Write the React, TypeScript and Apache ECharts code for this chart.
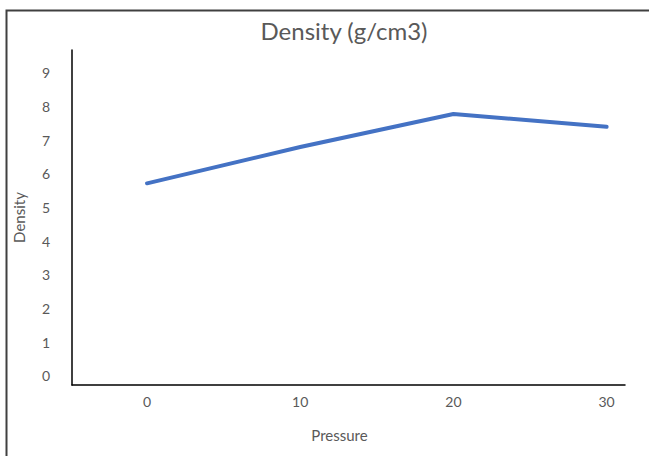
import React, { useEffect, useRef } from "react";
import * as echarts from "echarts";

const pressure = [0, 10, 20, 30];
const density = [5.72, 6.8, 7.78, 7.4];
const yTicks = [0, 1, 2, 3, 4, 5, 6, 7, 8, 9];
const xTicks = [0, 10, 20, 30];
const titleText = "Density (g/cm3)";
const xName = "Pressure";
const yName = "Density";

export default function App() {
  const ref = useRef<HTMLDivElement>(null);
  useEffect(() => {
    if (!ref.current) return;
    const chart = echarts.init(ref.current, null, { renderer: "svg" });
    const font = "Lato, 'Open Sans', sans-serif";
    chart.setOption({
      animation: false,
      backgroundColor: "#ffffff",
      textStyle: { fontFamily: font },
      graphic: [
        {
          type: "rect",
          shape: { x: 6.5, y: 10.5, width: 700, height: 500 },
          style: { fill: "none", stroke: "#404040", lineWidth: 2 },
          silent: true,
        },
        {
          type: "text",
          x: 344,
          y: 30,
          style: {
            text: titleText,
            fontFamily: font,
            fontSize: 24,
            fill: "#595959",
            align: "center",
            verticalAlign: "middle",
          },
        },
      ],
      grid: { left: 72, right: 24, top: 50, bottom: 71, containLabel: false },
      xAxis: {
        type: "value",
        min: -4.9,
        max: 31.2,
        name: xName,
        nameLocation: "middle",
        nameGap: 42,
        nameTextStyle: { color: "#595959", fontSize: 15, fontFamily: font, padding: [0, 18, 0, 0] },
        splitLine: { show: false },
        axisTick: { show: false },
        axisLine: { show: true, onZero: false, lineStyle: { color: "#000000", width: 1.5 } },
        axisLabel: {
          customValues: xTicks,
          color: "#595959",
          fontSize: 14,
          margin: 9,
          fontFamily: font,
        },
      },
      yAxis: {
        type: "value",
        min: -0.27,
        max: 9.68,
        name: yName,
        nameLocation: "middle",
        nameGap: 46,
        nameTextStyle: { color: "#595959", fontSize: 15, fontFamily: font },
        splitLine: { show: false },
        axisTick: { show: false },
        axisLine: { show: true, onZero: false, lineStyle: { color: "#000000", width: 1.5 } },
        axisLabel: {
          customValues: yTicks,
          color: "#595959",
          fontSize: 14,
          margin: 22,
          fontFamily: font,
        },
      },
      series: [
        {
          type: "line",
          data: pressure.map((p, i) => [p, density[i]]),
          symbol: "none",
          lineStyle: { color: "#4472C4", width: 4, cap: "round", join: "round" },
        },
      ],
    });
    return () => chart.dispose();
  }, []);
  return (
    <div
      ref={ref}
      style={{ position: "fixed", left: 0, top: 0, width: 649, height: 456 }}
    />
  );
}
